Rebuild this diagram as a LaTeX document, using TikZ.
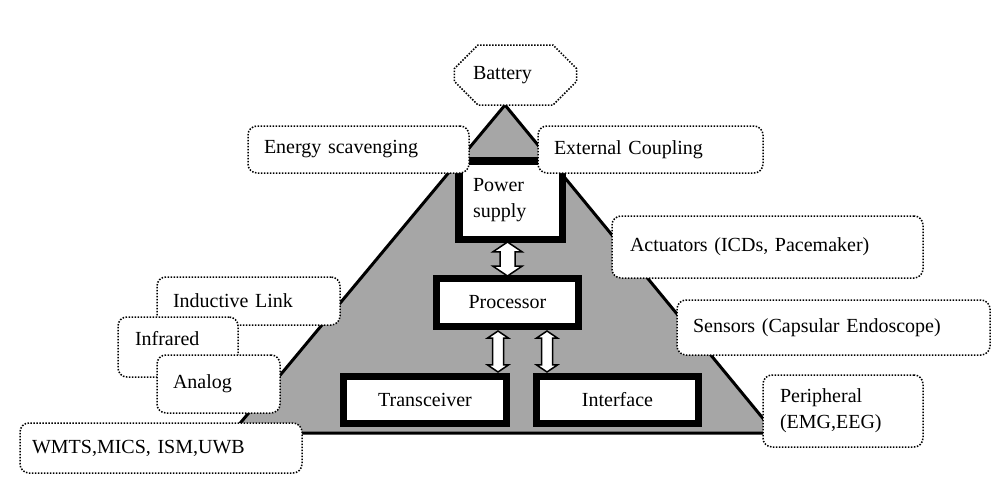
\documentclass[tikz,border=0pt]{standalone}
\usepackage{fontspec}
\setmainfont{Liberation Serif}
\usepackage{tikz}
\usetikzlibrary{shapes.misc, shapes.arrows, calc}
\definecolor{wedge}{RGB}{166,166,166}

\begin{document}
\begin{tikzpicture}[x=1pt, y=-1pt, font=\fontsize{20}{26}\selectfont,
        sbox/.style={draw, line width=1.5pt, dash pattern=on 1.5pt off 1.5pt,
                     rounded corners=9pt, fill=white, align=left,
                     inner xsep=16pt, inner ysep=0pt},
        blk/.style={draw, line width=7pt, fill=white, align=center,
                    inner sep=0pt},
        dblarrow/.style={double arrow, draw, fill=white, line width=1.5pt,
                         rotate=90, inner xsep=0pt, double arrow tip angle=112}]
      \useasboundingbox (0,0) rectangle (997,482);
      % the wedge behind the blocks
      \coordinate (apex) at (505,105);
      \coordinate (bl) at (232,433);
      \coordinate (br) at (775,433);
      \draw[line width=3pt, fill=wedge, line join=miter] (apex) -- (bl) -- (br) -- cycle;

      \node[blk, line width=7.5pt, minimum width=103.5pt, minimum height=78.5pt,
            text width=75pt, align=left, inner xsep=14.25pt] (ps) at (510.5,200)
        {Power\\supply};
      \node[blk, minimum width=142pt, minimum height=48pt] (proc) at (507.5,302.5) {Processor};
      \node[blk, minimum width=163pt, minimum height=47pt] (trx) at (425,400) {Transceiver};
      \node[blk, minimum width=162pt, minimum height=47pt] (intf) at (617.5,400) {Interface};

      \node[dblarrow, inner ysep=6.75pt, double arrow head extend=7pt,
            minimum height=34pt] (a1) at ($(proc.north)!0.5!(proc.north |- ps.south)$) {};
      \node[dblarrow, inner ysep=4.75pt, double arrow head extend=5pt,
            minimum height=41pt] (a2) at (498,351.5) {};
      \node[dblarrow, inner ysep=4.75pt, double arrow head extend=5pt,
            minimum height=41pt] (a3) at (547,351.5) {};

      % dotted labels round the wedge
      \node[sbox, chamfered rectangle, rounded corners=0pt, chamfered rectangle xsep=15pt,
            chamfered rectangle ysep=15pt, inner xsep=10pt, text width=85pt,
            minimum height=60pt] (bat) at (515.5,75) {Battery};
      \node[sbox, text width=189pt, minimum height=47pt] (es) at (358.5,149.5) {Energy scavenging};
      \node[sbox, text width=193pt, minimum height=47pt] (ec) at (650.5,149.5) {External Coupling};
      \node[sbox, inner xsep=18pt, text width=275pt, minimum height=62pt] (act) at (767.5,247)
        {Actuators (ICDs, Pacemaker)};
      \node[sbox, text width=281pt, minimum height=55pt] (sens) at (833.5,327.5)
        {Sensors (Capsular Endoscope)};
      \node[sbox, inner xsep=17pt, text width=126pt, minimum height=72pt] (peri) at (843,411)
        {Peripheral\\(EMG,EEG)};
      \node[sbox, text width=151pt, minimum height=48pt] (ind) at (248.5,301) {Inductive Link};
      \node[sbox, inner xsep=17pt, text width=86pt, minimum height=60pt, text depth=18pt]
        (ir) at (178,347) {Infrared};
      \node[sbox, text width=91pt, minimum height=58pt] (ana) at (218.5,384) {Analog};
      \node[sbox, inner xsep=12pt, text width=258pt, minimum height=50pt] (band) at (161,448)
        {WMTS,MICS, ISM,UWB};
    \end{tikzpicture}
\end{document}
